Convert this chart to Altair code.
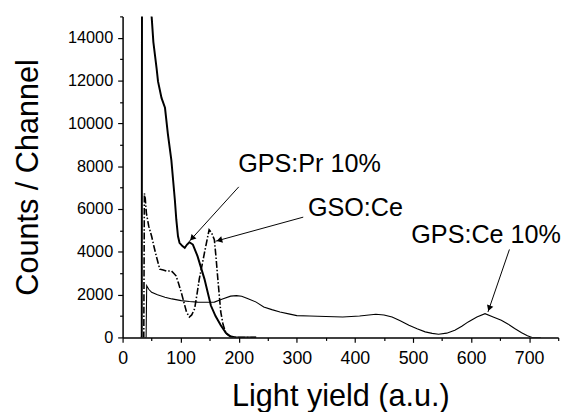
import math
import altair as alt
import pandas as pd

W, H = 441, 325
XMAX, YMAX = 750, 15000
FONT = "Liberation Sans"

# GPS:Pr 10% (thick solid)
pr_x = [31, 33, 34, 50, 53, 58.5, 61, 67, 73, 78, 84, 87, 90, 92.5, 95.4, 98, 103, 107,
        111, 115, 121, 129, 141, 152, 160, 169, 178, 186, 195, 230]
pr_y = [0, 0, 40000, 15000, 13800, 12580, 11960, 11190, 10730, 9500, 8270, 7344, 6420, 5500,
        4725, 4420, 4270, 4190, 4340, 4450, 4340, 3800, 2725, 1490, 1000, 570, 200, 40, 0, 0]

# GSO:Ce (dash-dot)
gso_x = [35, 36.5, 37.5, 39, 41, 45, 50, 54, 58, 64, 70, 76, 84, 88, 92, 96, 101, 106, 110, 115,
         119, 124, 128, 132, 137, 141, 145, 149, 153, 158, 161, 164, 169, 173, 178, 185, 195, 230]
gso_y = [0, 0, 6730, 6500, 5800, 5200, 4725, 4250, 3800, 3190, 3150, 3100, 3110, 3000, 2880, 2550,
         2110, 1600, 1190, 955, 1050, 1340, 2000, 2725, 3400, 3960, 4500, 5030, 4900, 4570,
         3700, 2725, 1190, 600, 185, 50, 0, 0]

# GPS:Ce 10% (thin solid)
ce_x = [39, 40.5, 41.5, 45, 50, 60, 73, 85, 101, 115, 129, 145, 158, 172, 186, 196, 205, 215, 230,
        243, 257, 271, 286, 300, 322, 350, 379, 408, 436, 450, 464, 478, 493, 507, 521, 533, 544,
        558, 572, 584, 595, 610, 624, 638, 652, 664, 675, 687, 697, 705, 720]
ce_y = [0, 0, 2415, 2250, 2110, 1990, 1880, 1800, 1720, 1680, 1650, 1640, 1650, 1800, 1930, 1955,
        1920, 1820, 1650, 1420, 1300, 1190, 1100, 1020, 1000, 980, 955, 1000, 1080, 1050, 955, 780,
        570, 400, 260, 190, 150, 200, 340, 520, 725, 950, 1110, 960, 800, 620, 415, 220, 80, 0, 0]

# annotations
labels = ["GPS:Pr 10%", "GSO:Ce", "GPS:Ce 10%"]
label_x = [199, 319, 497]
label_y = [8120, 6045, 4800]
arrow_x1 = [200, 311, 666]
arrow_y1 = [7035, 5620, 4110]
arrow_x2 = [115, 160, 629]
arrow_y2 = [4494, 4494, 1187]

sx = W / XMAX
sy = H / YMAX

heads = []
for x1, y1, x2, y2 in zip(arrow_x1, arrow_y1, arrow_x2, arrow_y2):
    dx = (x2 - x1) * sx
    dy = -(y2 - y1) * sy
    L = math.hypot(dx, dy)
    ang = (math.degrees(math.atan2(dx, -dy)) + 360) % 360
    back = 4.0
    hx = x2 - dx / L * back / sx
    hy = y2 + dy / L * back / sy
    heads.append({"x": hx, "y": hy, "angle": ang})

x_scale = alt.Scale(domain=[0, XMAX], nice=False, zero=False)
y_scale = alt.Scale(domain=[0, YMAX], nice=False, zero=False)

x_axis = alt.Axis(
    title="Light yield (a.u.)",
    values=list(range(0, 751, 50)),
    labelExpr="datum.value % 100 === 0 ? datum.label : ''",
    tickSize={"condition": {"test": "datum.value % 100 === 0", "value": 5}, "value": 3},
    grid=False, labelFont=FONT, labelFontSize=18, labelColor="black",
    titleFont=FONT, titleFontSize=31, titleFontWeight="normal", titleColor="black",
    domainColor="black", tickColor="black", domainWidth=1.5, tickWidth=1.2,
    labelPadding=7, titlePadding=15, labelFlush=False,
)
y_axis = alt.Axis(
    title="Counts / Channel",
    values=list(range(0, 15001, 1000)),
    labelExpr="datum.value % 2000 === 0 ? datum.label : ''",
    format="d",
    tickSize={"condition": {"test": "datum.value % 2000 === 0", "value": 5}, "value": 3},
    grid=False, labelFont=FONT, labelFontSize=16.5, labelColor="black",
    titleFont=FONT, titleFontSize=31, titleFontWeight="normal", titleColor="black",
    domainColor="black", tickColor="black", domainWidth=1.5, tickWidth=1.2,
    labelPadding=5, titlePadding=23, labelFlush=False,
)


def enc_xy():
    return dict(
        x=alt.X("x:Q", scale=x_scale, axis=x_axis),
        y=alt.Y("y:Q", scale=y_scale, axis=y_axis),
    )


def line(xs, ys, width, dash=None):
    df = pd.DataFrame({"x": xs, "y": ys, "i": range(len(xs))})
    kw = dict(color="black", strokeWidth=width, clip=True)
    if dash:
        kw["strokeDash"] = dash
    return alt.Chart(df).mark_line(**kw).encode(order="i:Q", **enc_xy())


pr = line(pr_x, pr_y, 2.0)
gso = line(gso_x, gso_y, 1.6, [7, 2, 1.5, 2])
ce = line(ce_x, ce_y, 1.1)

ann = pd.DataFrame({"t": labels, "x": label_x, "y": label_y})
text = alt.Chart(ann).mark_text(
    align="left", baseline="middle", font=FONT, fontSize=25.5, color="black"
).encode(text="t:N", **enc_xy())

arr = pd.DataFrame({"x": arrow_x1, "y": arrow_y1, "x2": arrow_x2, "y2": arrow_y2})
arrows = alt.Chart(arr).mark_rule(color="black", strokeWidth=1).encode(
    x2="x2:Q", y2="y2:Q", **enc_xy()
)
hd = pd.DataFrame(heads)
heads_ch = alt.Chart(hd).mark_point(
    shape="triangle-up", filled=True, color="black", size=45, opacity=1
).encode(angle=alt.Angle("angle:Q", scale=None), **enc_xy())

chart = alt.layer(pr, gso, ce, arrows, heads_ch, text).properties(
    width=W, height=H,
    autosize=alt.AutoSizeParams(type="none"),
    padding={"left": 116, "top": 6, "right": 18, "bottom": 73},
).configure(
    background="white",
    view=alt.ViewConfig(stroke="transparent", strokeWidth=0, strokeOpacity=0),
)

chart.save("out.html", embed_options={"renderer": "svg", "actions": False})
